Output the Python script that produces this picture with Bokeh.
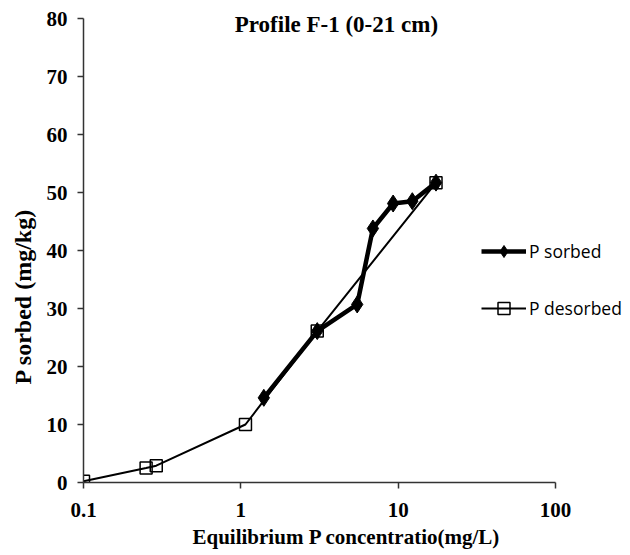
from bokeh.plotting import figure
from bokeh.models import (Range1d, FixedTicker, CustomJSTickFormatter, Legend,
                          LegendItem, Label, Title)
from bokeh.embed import file_html
from bokeh.resources import INLINE

# ---- data ----
sorbed_x = [1.40, 3.06, 5.49, 6.91, 9.29, 12.3, 17.4]
sorbed_y = [14.6, 26.1, 30.7, 43.8, 48.1, 48.5, 51.7]
desorbed_x = [0.10, 0.25, 0.29, 1.07, 3.06, 17.4]
desorbed_y = [0.2, 2.5, 2.9, 10.0, 26.1, 51.7]
x_ticks = [0.1, 1, 10, 100]
y_ticks = [0, 10, 20, 30, 40, 50, 60, 70, 80]
title_text = "Profile F-1 (0-21 cm)"
x_label = "Equilibrium  P concentratio(mg/L)"
y_label = "P sorbed (mg/kg)"
series_names = ["P sorbed", "P desorbed"]

SERIF = "Liberation Serif"
AXC = "#333333"

# axis spans 0.1..100 over 472 px and 0..80 over 464 px; the frame is a bit
# larger so that the legend and title (inside it) are not clipped
AX_W, AX_H = 472, 464
FR_W, FR_H = 540, 482
x_end = 10 ** (-1 + 3 * FR_W / AX_W)
y_end = 80 * FR_H / AX_H

p = figure(frame_width=FR_W, frame_height=FR_H,
           min_border_left=83, min_border_right=0,
           min_border_top=0, min_border_bottom=71,
           x_axis_type="log",
           x_range=Range1d(0.1, x_end), y_range=Range1d(0, y_end),
           output_backend="svg", toolbar_location=None)

p.outline_line_color = None
p.xgrid.visible = False
p.ygrid.visible = False
p.background_fill_color = "white"
p.border_fill_color = "white"

for ax in (p.xaxis[0], p.yaxis[0]):
    ax.axis_line_color = AXC
    ax.axis_line_width = 1.5
    ax.major_tick_line_color = AXC
    ax.major_tick_line_width = 1.5
    ax.major_tick_out = 6
    ax.major_tick_in = 0
    ax.minor_tick_line_color = None
    ax.major_label_text_font = SERIF
    ax.major_label_text_font_style = "bold"
    ax.major_label_text_font_size = "21px"
    ax.major_label_text_color = "black"

p.xaxis.major_label_standoff = 14
p.yaxis.major_label_standoff = 10
p.xaxis.bounds = (0.1, 100)
p.yaxis.bounds = (0, 80)
p.xaxis.ticker = FixedTicker(ticks=x_ticks)
p.xaxis.formatter = CustomJSTickFormatter(code="return tick.toString();")
p.yaxis.ticker = FixedTicker(ticks=y_ticks)

# axis titles as side titles, placed from the frame's start with an offset
yt = Title(text=y_label, align="left", offset=98, standoff=15,
           text_font=SERIF, text_font_style="bold", text_font_size="24px",
           text_color="black")
p.add_layout(yt, "left")
xt = Title(text=x_label, align="left", offset=109, standoff=6,
           text_font=SERIF, text_font_style="bold", text_font_size="21px",
           text_color="black")
p.add_layout(xt, "below")

# series
r_s_line = p.line(sorbed_x, sorbed_y, line_color="black", line_width=4.5)
r_s_mark = p.scatter(sorbed_x, sorbed_y, marker="diamond", size=17,
                     fill_color="black", line_color="black", line_width=1)
r_d_line = p.line(desorbed_x, desorbed_y, line_color="black", line_width=2)
r_d_mark = p.scatter(desorbed_x, desorbed_y, marker="square", size=12,
                     fill_alpha=0, line_color="black", line_width=1.5)

# chart title inside the frame
p.add_layout(Label(x=4.05, y=79.0, text=title_text, text_align="center",
                   text_baseline="middle", text_font=SERIF,
                   text_font_style="bold", text_font_size="23px",
                   text_color="black"))

legend = Legend(items=[LegendItem(label=series_names[0], renderers=[r_s_line, r_s_mark]),
                       LegendItem(label=series_names[1], renderers=[r_d_line, r_d_mark])],
                location=(398, 159), orientation="vertical",
                glyph_width=45, glyph_height=30, label_height=30,
                spacing=27, padding=0, margin=0, label_standoff=3,
                border_line_color=None, background_fill_alpha=0,
                label_text_font="Open Sans", label_text_font_size="17.5px",
                label_text_color="black")
p.add_layout(legend, "center")

open("out.html", "w").write(file_html(p, INLINE))
